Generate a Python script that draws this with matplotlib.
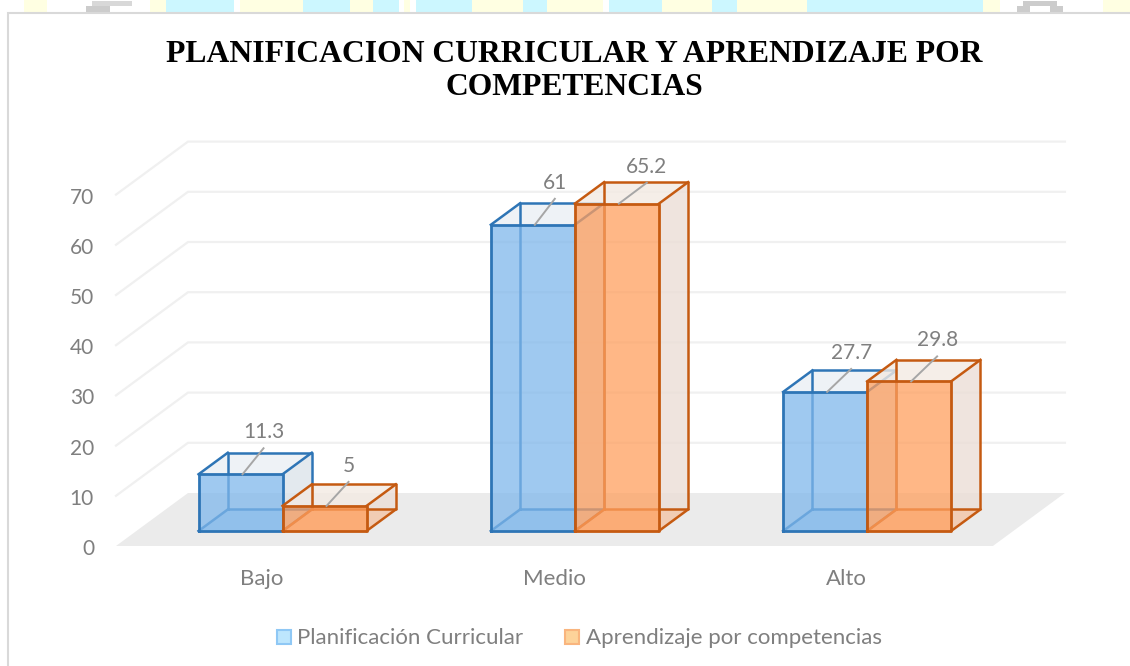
import matplotlib
matplotlib.use("Agg")
from matplotlib import pyplot as plt
from matplotlib.patches import Polygon, Rectangle
from matplotlib.transforms import ScaledTranslation

categories = ["Bajo", "Medio", "Alto"]
plan_curricular = [11.3, 61, 27.7]
aprendizaje = [5, 65.2, 29.8]
plan_labels = ["11.3", "61", "27.7"]
aprend_labels = ["5", "65.2", "29.8"]
y_ticks = [0, 10, 20, 30, 40, 50, 60, 70]
series_names = ["Planificación Curricular", "Aprendizaje por competencias"]
title = "PLANIFICACION CURRICULAR Y APRENDIZAJE POR\nCOMPETENCIAS"

W, H = 1130, 666
PX_X = 292.3  # pixels per category
PX_Y = 5.02   # pixels per unit of value
X0, Y0 = 116, 546  # front-left corner of the floor

# oblique depth of the floor, in data units
DEPTH_X = 72 / PX_X
DEPTH_Y = 53 / PX_Y
BAR_W = 84 / PX_X
D_FRONT, D_BACK = 0.283, 0.69

GREY = "#7f7f7f"
FONT = ["Lato", "DejaVu Sans"]

# where each value label sits, pixels from the top-left corner of its bar
plan_shift = [(65, 44), (64, 44), (68, 41)]
aprend_shift = [(66, 42), (72, 39), (70, 43)]


def proj(x, v, d=0.0):
    # oblique projection of a point of the 3D chart
    return x + d * DEPTH_X, v + d * DEPTH_Y


fig = plt.figure(figsize=(W / 100, H / 100), dpi=100)
ax = fig.add_axes([0, 0, 1, 1])
ax.set_xlim(-X0 / PX_X, (W - X0) / PX_X)
ax.set_ylim(-(H - Y0) / PX_Y, Y0 / PX_Y)
ax.axis("off")


def px(x, y):
    # figure pixel (from top left) to data coordinates
    return (x - X0) / PX_X, (Y0 - y) / PX_Y


def box(a, top, b, bottom, **kw):
    x1, y1 = px(a, bottom)
    x2, y2 = px(b, top)
    ax.add_patch(Rectangle((x1, y1), x2 - x1, y2 - y1, **kw))


# background strip above the chart
YEL, CYA = "#ffffe2", "#ccf7ff"
strip = [(24, 47, YEL), (150, 166, YEL), (166, 234, CYA), (240, 303, YEL), (303, 350, CYA),
         (350, 373, YEL), (373, 399, CYA), (404, 410, YEL), (416, 472, CYA), (472, 523, YEL),
         (523, 547, CYA), (547, 603, YEL), (609, 662, CYA), (662, 712, YEL), (712, 737, CYA),
         (737, 807, YEL), (807, 983, CYA), (983, 1000, YEL), (1103, 1130, YEL)]
for a, b, c in strip:
    box(a, 0, b, 12, fc=c, ec="none", zorder=1)
box(92, 1, 132, 6, fc="#d8d8d8", ec="none", zorder=1)
box(86, 6, 110, 12, fc="#cccccc", ec="none", zorder=1)
box(1023, 1, 1057, 6, fc="#cccccc", ec="none", zorder=1)
box(1017, 6, 1030, 12, fc="#cccccc", ec="none", zorder=1)
box(1050, 6, 1063, 12, fc="#cccccc", ec="none", zorder=1)

# chart area with its border
box(8, 12.5, W + 5, H + 5, fc="white", ec="#d9d9d9", lw=1.5, zorder=2)

# floor
n = len(categories)
floor = [proj(0, 0), proj(n, 0), proj(n, 0, 1), proj(0, 0, 1)]
ax.add_patch(Polygon(floor, fc="#ebebeb", ec="none", zorder=3))

# grid lines on the side and back walls
for t in y_ticks[1:]:
    pts = [proj(0, t), proj(0, t, 1), proj(n, t, 1)]
    ax.plot(*zip(*pts), color="#f0f0f0", lw=1.6, zorder=3, solid_joinstyle="miter")
for t in y_ticks:
    ax.text(px(94, 0)[0], t - 3 / PX_Y, str(t), ha="right", va="center", color=GREY, fontsize=15,
            family=FONT, zorder=20)

# category names
down = ax.transData + ScaledTranslation(0, -33 / 100, fig.dpi_scale_trans)
for i, c in enumerate(categories):
    ax.text(*proj(i + 0.5, 0), c, ha="center", va="center", color=GREY, fontsize=16, family=FONT,
            transform=down, zorder=20)


def draw_bar(x, v, edge, front, side, top, z):
    bl, br = x, x + BAR_W
    a = proj(bl, 0, D_FRONT); b = proj(br, 0, D_FRONT); c = proj(br, v, D_FRONT); d = proj(bl, v, D_FRONT)
    e = proj(bl, 0, D_BACK); f = proj(br, 0, D_BACK); g = proj(br, v, D_BACK); h = proj(bl, v, D_BACK)
    # faces at the back, then the hidden edges, then the front
    ax.add_patch(Polygon([b, f, g, c], fc=side, alpha=0.8, ec="none", zorder=z))
    ax.add_patch(Polygon([d, c, g, h], fc=top, alpha=0.8, ec="none", zorder=z))
    ax.add_patch(Polygon([a, b, f, e], fc=front, alpha=0.3, ec="none", zorder=z))
    ax.plot(*zip(e, f, g, h, e), color=edge, lw=1.8, zorder=z + 0.1, solid_joinstyle="round")
    ax.plot(*zip(a, e), color=edge, lw=1.8, zorder=z + 0.1)
    ax.plot(*zip(b, f), color=edge, lw=1.8, zorder=z + 0.1)
    ax.plot(*zip(c, g), color=edge, lw=1.8, zorder=z + 0.1)
    ax.plot(*zip(d, h), color=edge, lw=1.8, zorder=z + 0.1)
    ax.add_patch(Polygon([a, b, c, d], fc=front, alpha=0.75, ec="none", zorder=z + 0.2))
    ax.plot(*zip(a, b, c, d, a), color=edge, lw=2.0, zorder=z + 0.3, solid_joinstyle="round")
    return d


def draw_label(corner, txt, shift):
    # leader line from the top of the bar up to the value
    x = corner[0] + 44 / PX_X
    y = corner[1]
    lx = corner[0] + shift[0] / PX_X
    ly = y + shift[1] / PX_Y
    ax.plot([x, lx], [y, ly - 18 / PX_Y], color="#a6a6a6", lw=1.4, zorder=18)
    ax.text(lx, ly - 2 / PX_Y, txt, ha="center", va="center", color=GREY, fontsize=15, family=FONT, zorder=20)


left = 0.5 - BAR_W
for i in range(n):
    c1 = draw_bar(i + left, plan_curricular[i], "#2e75b6", "#7fb7eb", "#dde4ea", "#eaeff4", 4 + i * 2)
    c2 = draw_bar(i + left + BAR_W, aprendizaje[i], "#c55a11", "#ff9f5e", "#ebded6", "#f3eae3", 5 + i * 2)
    draw_label(c1, plan_labels[i], plan_shift[i])
    draw_label(c2, aprend_labels[i], aprend_shift[i])

# title
ax.text(*px(574, 71), title, ha="center", va="center", color="black", fontsize=22.8, fontweight="bold",
        family="Liberation Serif", linespacing=1.2, zorder=20)

# legend
leg_y = 637
for x_box, x_txt, name, fc, ec in [(277, 297, series_names[0], "#bde6fd", "#8fc8f5"),
                                   (565, 586, series_names[1], "#fdd39a", "#f9b57e")]:
    box(x_box, leg_y - 7, x_box + 14, leg_y + 7, fc=fc, ec=ec, lw=1.5, zorder=20)
    ax.text(*px(x_txt, leg_y + 1), name, ha="left", va="center", color=GREY, fontsize=16, family=FONT, zorder=20)

fig.savefig("out.png", dpi=100)
